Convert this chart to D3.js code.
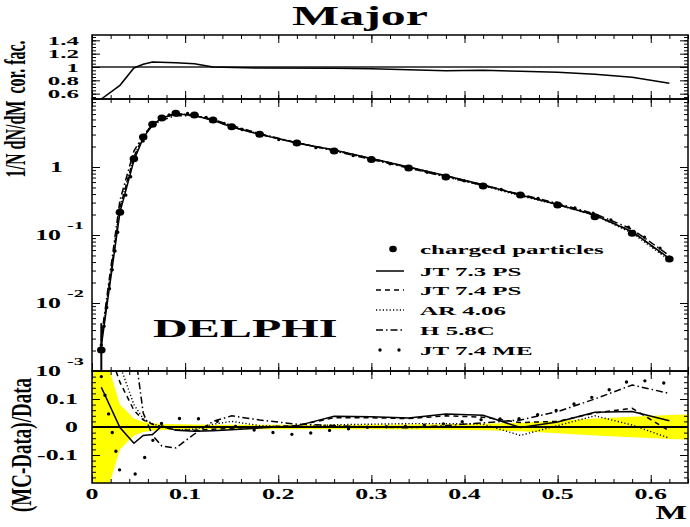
<!DOCTYPE html>
<html><head><meta charset="utf-8">
<script src="https://cdn.jsdelivr.net/npm/d3@7"></script>
<style>
body{margin:0;background:#fff}
svg{display:block}
text{font-family:"Liberation Serif","Times New Roman",serif;font-weight:bold;fill:#000}
</style>
</head><body>
<svg id="c" width="690" height="527"></svg>
<script>
// ---------- data ----------
const bins = [0.01,0.03,0.045,0.055,0.065,0.075,0.09,0.11,0.13,0.15,0.18,0.22,0.26,0.30,0.34,0.38,0.42,0.46,0.50,0.54,0.58,0.62];
const dataVal = [0.00204,0.216,1.32,2.76,4.25,5.25,6.16,5.82,4.91,3.92,3.03,2.25,1.72,1.29,0.967,0.713,0.526,0.388,0.276,0.186,0.106,0.0444];
const dataErr = [0.003,0.01,0.04,0.05,0.06,0.06,0.06,0.05,0.04,0.03,0.03,0.02,0.015,0.012,0.01,0.008,0.006,0.005,0.004,0.004,0.003,0.002];
const ratioJT73 = [0.142,-0.002,-0.058,-0.03,-0.027,0.004,-0.012,-0.015,-0.013,-0.01,-0.004,0.004,0.038,0.037,0.032,0.046,0.042,-0.002,0.018,0.053,0.055,0.022];
const ratioJT74 = [0.35,0.16,0.06,0.025,0.01,0.0,-0.01,-0.012,-0.008,-0.005,0.0,0.005,0.033,0.033,0.03,0.04,0.035,0.016,0.02,0.05,0.067,-0.014];
const ratioAR = [0.4,0.22,0.08,0.03,0.012,0.0,-0.01,-0.008,0.01,0.02,0.005,0.0,0.008,0.01,0.012,0.012,0.01,-0.03,0.005,0.04,0.007,-0.04];
const ratioH58 = [0.5,0.5,0.3,0.05,-0.03,-0.068,-0.075,-0.025,0.02,0.04,0.025,0.01,0.005,0.0,-0.003,0.005,0.015,0.025,0.055,0.1,0.15,0.12];
const ratioME = [0.18,-0.16,-0.175,-0.12,-0.05,0.015,0.03,0.031,0.025,0.005,-0.015,-0.028,-0.01,0.0,0.002,0.012,0.027,0.03,0.06,0.11,0.17,0.155];
const bandM = [0,0.01,0.03,0.045,0.055,0.065,0.075,0.09,0.11,0.13,0.15,0.18,0.22,0.26,0.30,0.34,0.38,0.42,0.46,0.50,0.54,0.58,0.62,0.64];
const bandErr = [0.45,0.3,0.08,0.03,0.018,0.013,0.011,0.01,0.009,0.008,0.008,0.008,0.008,0.008,0.008,0.009,0.01,0.012,0.015,0.022,0.03,0.037,0.043,0.045];
const corM = [0.01,0.03,0.045,0.055,0.065,0.09,0.11,0.13,0.18,0.26,0.30,0.34,0.38,0.42,0.46,0.50,0.54,0.58,0.62];
const corVal = [0.52,0.725,0.985,1.04,1.075,1.065,1.05,1.0,0.985,0.98,0.975,0.96,0.945,0.95,0.935,0.92,0.89,0.845,0.755];

const xTicks = [0,0.1,0.2,0.3,0.4,0.5,0.6];
const xTickLabels = ["0","0.1","0.2","0.3","0.4","0.5","0.6"];
const corTicks = [0.6,0.8,1,1.2,1.4];
const corTickLabels = ["0.6","0.8","1","1.2","1.4"];
const mainTicks = [1e-3,1e-2,1e-1,1];
const mainTickBase = ["10","10","10","1"];
const mainTickExp = ["-3","-2","-1",""];
const ratioTicks = [-0.1,0,0.1];
const ratioTickLabels = ["-0.1","0","0.1"];
const legendLabels = ["charged particles","JT 7.3 PS","JT 7.4 PS","AR 4.06","H 5.8C","JT 7.4 ME"];

// ---------- layout ----------
const K = 1.85; // horizontal glyph stretch of the original
const svg = d3.select("#c");
const X0 = 92, X1 = 688;
const x = d3.scaleLinear().domain([0,0.64]).range([X0,X1]);
const yCor = d3.scaleLinear().domain([0.52,1.48]).range([99,35]);
const yMain = d3.scaleLog().domain([1e-3,10]).range([371,99]);
const yRat = d3.scaleLinear().domain([-0.2,0.2]).range([483,371]);

const styles = [
  {dash:null, w:1.5, cap:"butt"},
  {dash:"5,4", w:1.5, cap:"butt"},
  {dash:"1.2,2.2", w:1.4, cap:"butt"},
  {dash:"7,3,1.5,3", w:1.5, cap:"butt"},
  {dash:"0,19", w:3.4, cap:"round"}
];
const ratios = [ratioJT73, ratioJT74, ratioAR, ratioH58, ratioME];

function txt(g, px, py, s, size, anchor, rot, k){
  const kk = k || K;
  return g.append("text")
    .attr("transform", `translate(${px},${py}) scale(${kk},1)` + (rot ? " rotate(-90)" : ""))
    .attr("text-anchor", anchor)
    .style("font-size", size + "px")
    .text(s);
}
function clip(id, y0, y1){
  svg.append("clipPath").attr("id", id).append("rect")
    .attr("x", X0).attr("y", y0).attr("width", X1 - X0).attr("height", y1 - y0);
}
clip("cCor", 35, 99); clip("cMain", 99, 371); clip("cRat", 371, 483);

function ticks(yTop, yBot, yScale, yMajor, yMinor){
  const minorX = d3.range(0, 0.6401, 0.02);
  const g = svg.append("g").attr("class","ticks");
  const mk = (axis, tr) => { const a = g.append("g").attr("transform", tr).call(axis); a.select(".domain").remove(); a.selectAll("line").attr("stroke","#000").attr("stroke-width",1); };
  mk(d3.axisTop(x).tickValues(minorX).tickSize(4).tickFormat(""), `translate(0,${yBot})`);
  mk(d3.axisTop(x).tickValues(xTicks).tickSize(8).tickFormat(""), `translate(0,${yBot})`);
  mk(d3.axisBottom(x).tickValues(minorX).tickSize(4).tickFormat(""), `translate(0,${yTop})`);
  mk(d3.axisBottom(x).tickValues(xTicks).tickSize(8).tickFormat(""), `translate(0,${yTop})`);
  mk(d3.axisRight(yScale).tickValues(yMinor).tickSize(4).tickFormat(""), `translate(${X0},0)`);
  mk(d3.axisRight(yScale).tickValues(yMajor).tickSize(8).tickFormat(""), `translate(${X0},0)`);
  mk(d3.axisLeft(yScale).tickValues(yMinor).tickSize(4).tickFormat(""), `translate(${X1},0)`);
  mk(d3.axisLeft(yScale).tickValues(yMajor).tickSize(8).tickFormat(""), `translate(${X1},0)`);
}

// ---------- title ----------
txt(svg, 360, 25, "Major", 27, "middle");

// ---------- top panel ----------
const gCor = svg.append("g").attr("clip-path","url(#cCor)");
gCor.append("line").attr("x1",X0).attr("x2",X1).attr("y1",yCor(1)).attr("y2",yCor(1))
  .attr("stroke","#555").attr("stroke-width",2.2);
gCor.append("path").datum(corM.map((m,i)=>[m,corVal[i]]))
  .attr("fill","none").attr("stroke","#000").attr("stroke-width",1.5)
  .attr("d", d3.line().x(d=>x(d[0])).y(d=>yCor(d[1])));
ticks(35, 99, yCor, corTicks, d3.range(0.55,1.48,0.05));
corTicks.forEach((v,i)=>txt(svg, 79, yCor(v)+4.5, corTickLabels[i], 13.5, "end"));

// ---------- main panel ----------
const gMain = svg.append("g").attr("clip-path","url(#cMain)");
ratios.forEach((r,k)=>{
  const st = styles[k];
  gMain.append("path").datum(bins.map((m,i)=>[m, dataVal[i]*(1+r[i])]))
    .attr("fill","none").attr("stroke","#000").attr("stroke-width", st.w)
    .attr("stroke-dasharray", st.dash).attr("stroke-linecap", st.cap)
    .attr("d", d3.line().x(d=>x(d[0])).y(d=>yMain(d[1])));
});
gMain.selectAll("line.err").data(bins).join("line").attr("class","err")
  .attr("x1",d=>x(d)).attr("x2",d=>x(d))
  .attr("y1",(d,i)=>yMain(Math.max(dataVal[i]-dataErr[i],1e-4)))
  .attr("y2",(d,i)=>yMain(dataVal[i]+dataErr[i]))
  .attr("stroke","#000").attr("stroke-width",2);
gMain.selectAll("ellipse.pt").data(bins).join("ellipse").attr("class","pt")
  .attr("cx",d=>x(d)).attr("cy",(d,i)=>yMain(dataVal[i])).attr("rx",4.3).attr("ry",3.5).attr("fill","#000");
const logMinor = [];
[1e-3,1e-2,1e-1,1].forEach(dec=>{ for(let j=2;j<=9;j++) logMinor.push(dec*j); });
ticks(99, 371, yMain, [1e-3,1e-2,1e-1,1,10], logMinor);
mainTicks.forEach((v,i)=>{
  const yy = yMain(v);
  if(mainTickExp[i]){
    txt(svg, 61, yy+5, mainTickBase[i], 14, "end");
    txt(svg, 67, yy-6, mainTickExp[i], 11, "start");
  } else {
    txt(svg, 63, yy+5, mainTickBase[i], 14, "end");
  }
});
txt(svg, 153, 337, "DELPHI", 26, "start");

// legend
const legY = [249,271,290,310,330,350];
const gLeg = svg.append("g");
gLeg.append("ellipse").attr("cx",393).attr("cy",legY[0]).attr("rx",3.8).attr("ry",3.2).attr("fill","#000");
styles.forEach((st,k)=>{
  gLeg.append("line").attr("x1",k===4?380:376).attr("x2",404).attr("y1",legY[k+1]).attr("y2",legY[k+1])
    .attr("stroke","#000").attr("stroke-width",st.w).attr("stroke-dasharray",st.dash).attr("stroke-linecap",st.cap);
});
legendLabels.forEach((s,i)=>txt(gLeg, 420, legY[i]+4.5, s, 13.5, "start"));

// ---------- ratio panel ----------
const gRat = svg.append("g").attr("clip-path","url(#cRat)");
gRat.append("path").datum(bandM.map((m,i)=>[m,bandErr[i]]))
  .attr("fill","#ffff00").attr("stroke","none")
  .attr("d", d3.area().x(d=>x(d[0])).y0(d=>yRat(-d[1])).y1(d=>yRat(d[1])));
gRat.append("line").attr("x1",X0).attr("x2",X1).attr("y1",yRat(0)).attr("y2",yRat(0))
  .attr("stroke","#000").attr("stroke-width",2);
ratios.forEach((r,k)=>{
  const st = styles[k];
  gRat.append("path").datum(bins.map((m,i)=>[m,r[i]]))
    .attr("fill","none").attr("stroke","#000").attr("stroke-width", st.w)
    .attr("stroke-dasharray", st.dash).attr("stroke-linecap", st.cap)
    .attr("d", d3.line().x(d=>x(d[0])).y(d=>yRat(d[1])));
});
ticks(371, 483, yRat, ratioTicks, d3.range(-0.18,0.19,0.02).map(v=>+v.toFixed(2)));
ratioTicks.forEach((v,i)=>txt(svg, 78, yRat(v)+5, ratioTickLabels[i], 14, "end"));
xTicks.forEach((v,i)=>txt(svg, x(v), 499, xTickLabels[i], 14, "middle"));
txt(svg, 687, 519, "M", 18, "end");

// ---------- frames ----------
[[35,99],[99,371],[371,483]].forEach(([a,b])=>{
  svg.append("rect").attr("x",X0).attr("y",a).attr("width",X1-X0).attr("height",b-a)
    .attr("fill","none").attr("stroke","#000").attr("stroke-width",1.5);
});

// ---------- axis titles ----------
txt(svg, 25, 139, "1/N dN/dM", 16, "middle", true);
txt(svg, 25, 67, "cor. fac.", 16, "middle", true);
txt(svg, 31, 445, "(MC-Data)/Data", 19, "middle", true, 1.5);
</script>
</body></html>
